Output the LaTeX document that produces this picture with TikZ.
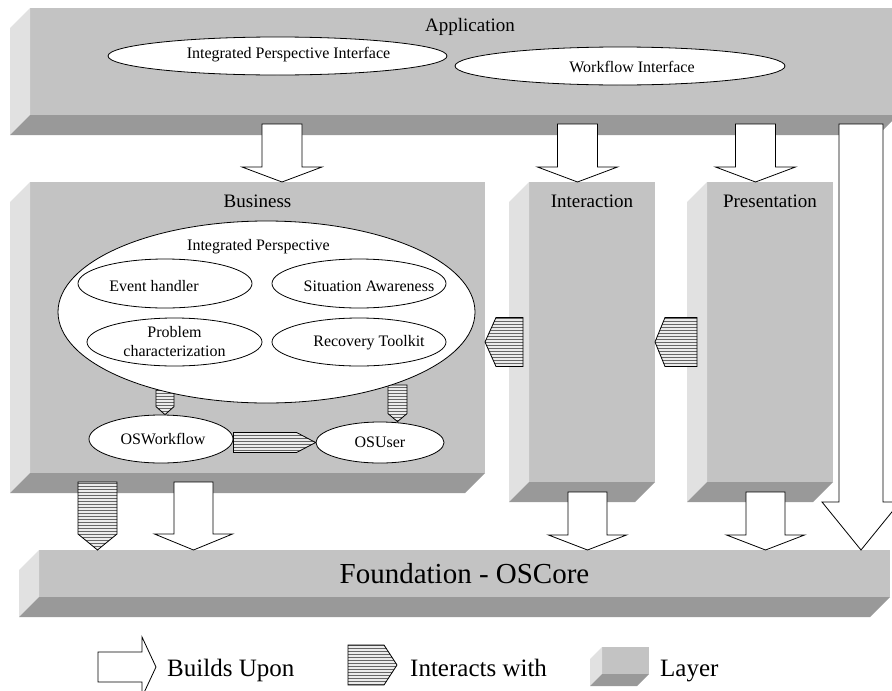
\documentclass[tikz,border=0pt]{standalone}
\usepackage{fontspec}
\setmainfont{Liberation Serif}
\usetikzlibrary{calc,shapes.geometric,patterns}
\definecolor{layerfront}{RGB}{195,195,195}
\definecolor{layerside}{RGB}{225,225,225}
\definecolor{layerunder}{RGB}{153,153,153}

% side and bottom faces of a layer block
\newcommand\extrude[2]{%
  \fill[layerside] (#1.north west) -- ++(-#2,#2) -- ($(#1.south west)+(-#2,#2)$) -- (#1.south west) -- cycle;
  \fill[layerunder] (#1.south west) -- (#1.south east) -- ++(-#2,#2) -- ($(#1.south west)+(-#2,#2)$) -- cycle;}
% block arrow: start, tip, shaft half width, head half width, head length
\newcommand\upon[5]{%
  \coordinate (hd) at ($#2!#5!#1$);
  \path[upon] ($#1!#3!90:#2$) -- ($(hd)!#3!-90:#1$) -- ($(hd)!#4!-90:#1$) -- #2
    -- ($(hd)!#4!90:#1$) -- ($(hd)!#3!90:#1$) -- ($#1!#3!-90:#2$) -- cycle;}
% hatched pointer: start, tip, half width, head length
\newcommand\interacts[4]{%
  \coordinate (hd) at ($#2!#4!#1$);
  \path[inter] ($#1!#3!90:#2$) -- ($(hd)!#3!-90:#1$) -- #2 -- ($(hd)!#3!90:#1$) -- ($#1!#3!-90:#2$) -- cycle;}

\begin{document}
\begin{tikzpicture}[
    x=1pt, y=-1pt,
    layer/.style={fill=layerfront, inner sep=0pt, outer sep=0pt, anchor=north west},
    el/.style={ellipse, draw, fill=white, line width=0.8pt, inner sep=0pt},
    every label/.style={font=\fontsize{16}{19}\selectfont, inner sep=0pt, align=center},
    title/.style={font=\fontsize{19}{23}\selectfont},
    legend/.style={font=\fontsize{25}{30}\selectfont, inner sep=0pt, anchor=base west},
    upon/.style={draw, fill=white, line width=0.8pt},
    inter/.style={draw, line width=0.8pt, preaction={fill=black!8}, pattern=horizontal lines, pattern color=black!60}
  ]
    \useasboundingbox (0,0) rectangle (892,691);

    % layers
    \node[layer, minimum width=868pt, minimum height=107pt, label={[title, xshift=6pt, yshift=34.5pt]center:Application}] (app) at (30,8) {};
    \extrude{app}{20}
    \node[layer, minimum width=455pt, minimum height=291pt, label={[title, yshift=126.5pt]center:Business}] (bus) at (30,182) {};
    \extrude{bus}{20}
    \node[layer, minimum width=126pt, minimum height=300pt, label={[title, yshift=131pt]center:Interaction}] (inter) at (529,182) {};
    \extrude{inter}{20}
    \node[layer, minimum width=126pt, minimum height=300pt, label={[title, yshift=131pt]center:Presentation}] (pres) at (707,182) {};
    \extrude{pres}{20}
    \node[layer, minimum width=851pt, minimum height=47pt, font=\fontsize{29}{34}\selectfont] (found) at (39,550) {Foundation - OSCore};
    \extrude{found}{20}

    % builds upon
    \coordinate (s1) at (282,124);
    \coordinate (s2) at (577.5,124);
    \coordinate (s3) at (755.5,124);
    \coordinate (s4) at (861,124);
    \coordinate (s5) at (193.5,482);
    \coordinate (s6) at (587.5,492);
    \coordinate (s7) at (765.5,492);
    \upon{(s1)}{(s1 |- bus.north)}{20pt}{40pt}{15pt}
    \upon{(s2)}{(s2 |- inter.north)}{20pt}{40pt}{15pt}
    \upon{(s3)}{(s3 |- pres.north)}{20pt}{40pt}{15pt}
    \upon{(s4)}{(s4 |- found.north)}{22pt}{39pt}{48pt}
    \upon{(s5)}{(s5 |- found.north)}{19.5pt}{39pt}{16pt}
    \upon{(s6)}{(s6 |- found.north)}{19.5pt}{39pt}{15pt}
    \upon{(s7)}{(s7 |- found.north)}{19.5pt}{39pt}{15pt}

    % interacts with, between layers
    \coordinate (i4) at (97.5,482);
    \coordinate (i5) at (523,342);
    \coordinate (i6) at (697,342);
    \interacts{(i4)}{(i4 |- found.north)}{19.5pt}{16pt}
    \interacts{(i5)}{(bus.east |- i5)}{24.5pt}{11pt}
    \interacts{(i6)}{(inter.east |- i6)}{24.5pt}{10pt}

    % business components
    \node[el, minimum width=144pt, minimum height=48pt, label={[xshift=2pt]center:OSWorkflow}] (osw) at (161,439) {};
    \node[el, minimum width=128pt, minimum height=41pt, label={center:OSUser}] (osu) at (380,442.5) {};
    \coordinate (i1) at (165,390);
    \coordinate (i2) at (397.5,385);
    \interacts{(i1)}{(i1 |- osw.north)}{9pt}{8pt}
    \interacts{(i2)}{(i2 |- osu.north)}{9.5pt}{8pt}
    \node[el, minimum width=417pt, minimum height=182pt, label={[xshift=-8pt, yshift=65pt]center:Integrated Perspective}] (ip) at (266.5,312) {};
    \node[el, minimum width=174pt, minimum height=49pt, label={[xshift=-11pt, yshift=-2.5pt]center:Event handler}] (evh) at (165,283.5) {};
    \node[el, minimum width=174pt, minimum height=49pt, label={[xshift=10pt, yshift=-2.5pt]center:Situation Awareness}] (sit) at (359,283.5) {};
    \node[el, minimum width=175pt, minimum height=48pt, label={center:Problem\\characterization}] (prob) at (174.5,342) {};
    \node[el, minimum width=174pt, minimum height=48pt, label={[xshift=10pt, yshift=-1pt]center:Recovery Toolkit}] (rec) at (359,342) {};
    \interacts{(osw.east |- osu.west)}{(osu.west)}{10pt}{19pt}

    % application components
    \node[el, minimum width=339pt, minimum height=38pt, label={[xshift=11pt, yshift=1pt]center:Integrated Perspective Interface}] (ipi) at (277.5,56) {};
    \node[el, minimum width=330pt, minimum height=38pt, label={[xshift=12pt, yshift=-1pt]center:Workflow Interface}] (wfi) at (620,66) {};

    % legend
    \coordinate (l1) at (98,667);
    \coordinate (l2) at (348,665);
    \upon{(l1)}{(l1 -| 156,0)}{15pt}{30pt}{14pt}
    \interacts{(l2)}{(l2 -| 397,0)}{20pt}{13pt}
    \node[layer, minimum width=47pt, minimum height=27pt] (cube) at (602,647) {};
    \extrude{cube}{12}
    \node[legend] (lb1) at (167,676) {Builds Upon};
    \node[legend] (lb2) at (410,676) {Interacts with};
    \node[legend] (lb3) at (660,676) {Layer};
\end{tikzpicture}
\end{document}
